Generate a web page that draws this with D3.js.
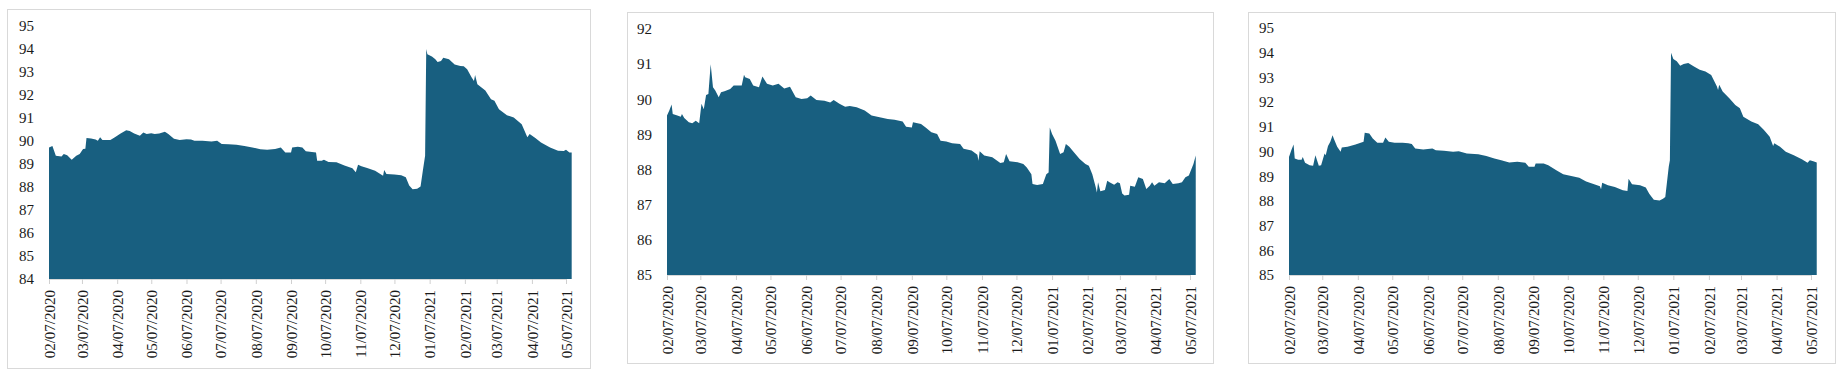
<!DOCTYPE html>
<html>

<head>
    <meta charset="utf-8">
    <title>Three area charts</title>
    <script src="https://d3js.org/d3.v7.min.js"></script>
    <style>
        body { margin: 0; background: #fff; }
        .tick text { font-family: "Liberation Serif", "DejaVu Serif", serif; fill: #1a1a1a; }
    </style>
</head>

<body>
    <svg width="1843" height="377"></svg>

    <script>
        // tick dates (MM/DD/YYYY on the axis)
        const tickDates = ["2020-02-07", "2020-03-07", "2020-04-07", "2020-05-07", "2020-06-07", "2020-07-07",
            "2020-08-07", "2020-09-07", "2020-10-07", "2020-11-07", "2020-12-07", "2021-01-07",
            "2021-02-07", "2021-03-07", "2021-04-07", "2021-05-07"];

        const yTicksA = [84, 85, 86, 87, 88, 89, 90, 91, 92, 93, 94, 95];
        const yTicksB = [85, 86, 87, 88, 89, 90, 91, 92];
        const yTicksC = [85, 86, 87, 88, 89, 90, 91, 92, 93, 94, 95];

        // series values
        const seriesA = [["2020-02-07",89.72],["2020-02-10",89.78],["2020-02-13",89.36],["2020-02-18",89.33],["2020-02-20",89.43],["2020-02-23",89.38],["2020-02-27",89.19],["2020-03-02",89.36],["2020-03-05",89.43],["2020-03-08",89.65],["2020-03-10",89.66],["2020-03-11",90.13],["2020-03-15",90.11],["2020-03-19",90.07],["2020-03-21",90.01],["2020-03-23",90.16],["2020-03-25",90.04],["2020-04-01",90.04],["2020-04-05",90.16],["2020-04-10",90.33],["2020-04-15",90.47],["2020-04-18",90.44],["2020-04-22",90.33],["2020-04-27",90.23],["2020-04-30",90.37],["2020-05-03",90.3],["2020-05-07",90.34],["2020-05-10",90.3],["2020-05-14",90.33],["2020-05-19",90.4],["2020-05-22",90.3],["2020-05-27",90.1],["2020-06-01",90.04],["2020-06-07",90.08],["2020-06-11",90.06],["2020-06-14",90.01],["2020-06-21",90.01],["2020-06-29",89.98],["2020-07-04",90.01],["2020-07-08",89.87],["2020-07-14",89.86],["2020-07-21",89.84],["2020-07-28",89.78],["2020-08-04",89.72],["2020-08-11",89.64],["2020-08-17",89.62],["2020-08-24",89.65],["2020-08-29",89.72],["2020-09-02",89.5],["2020-09-07",89.5],["2020-09-08",89.72],["2020-09-13",89.75],["2020-09-17",89.72],["2020-09-20",89.55],["2020-09-29",89.5],["2020-09-30",89.14],["2020-10-04",89.14],["2020-10-06",89.19],["2020-10-10",89.09],["2020-10-17",89.08],["2020-10-24",88.93],["2020-10-31",88.81],["2020-11-03",88.64],["2020-11-05",88.97],["2020-11-08",88.9],["2020-11-13",88.83],["2020-11-20",88.71],["2020-11-27",88.49],["2020-11-28",88.74],["2020-11-30",88.57],["2020-12-07",88.54],["2020-12-13",88.51],["2020-12-17",88.42],["2020-12-20",88.06],["2020-12-23",87.9],["2020-12-27",87.92],["2020-12-30",88.02],["2021-01-01",88.71],["2021-01-03",89.36],["2021-01-04",94.0],["2021-01-05",93.77],["2021-01-09",93.67],["2021-01-12",93.55],["2021-01-14",93.44],["2021-01-17",93.48],["2021-01-19",93.62],["2021-01-24",93.55],["2021-01-29",93.33],["2021-02-03",93.26],["2021-02-06",93.25],["2021-02-09",93.12],["2021-02-13",92.76],["2021-02-15",92.61],["2021-02-16",92.87],["2021-02-18",92.47],["2021-02-25",92.2],["2021-03-02",91.82],["2021-03-05",91.75],["2021-03-09",91.38],["2021-03-16",91.12],["2021-03-22",91.02],["2021-03-29",90.73],["2021-04-03",90.16],["2021-04-05",90.3],["2021-04-10",90.13],["2021-04-15",89.94],["2021-04-23",89.72],["2021-04-30",89.58],["2021-05-05",89.56],["2021-05-07",89.62],["2021-05-10",89.5],["2021-05-12",89.5]];

        const seriesB = [["2020-02-07",89.54],["2020-02-09",89.68],["2020-02-11",89.85],["2020-02-12",89.58],["2020-02-16",89.54],["2020-02-19",89.5],["2020-02-20",89.58],["2020-02-22",89.47],["2020-02-26",89.35],["2020-02-29",89.32],["2020-03-03",89.39],["2020-03-06",89.32],["2020-03-08",89.87],["2020-03-10",89.72],["2020-03-12",90.12],["2020-03-14",90.15],["2020-03-16",91.0],["2020-03-18",90.34],["2020-03-20",90.25],["2020-03-23",90.06],["2020-03-25",90.2],["2020-03-28",90.23],["2020-04-02",90.29],["2020-04-05",90.39],["2020-04-12",90.39],["2020-04-14",90.7],["2020-04-15",90.63],["2020-04-19",90.58],["2020-04-22",90.39],["2020-04-27",90.34],["2020-04-30",90.65],["2020-05-04",90.44],["2020-05-09",90.39],["2020-05-14",90.44],["2020-05-19",90.31],["2020-05-24",90.36],["2020-05-29",90.06],["2020-06-03",90.01],["2020-06-08",90.03],["2020-06-11",90.11],["2020-06-16",89.98],["2020-06-23",89.96],["2020-06-28",89.91],["2020-07-01",89.98],["2020-07-06",89.87],["2020-07-11",89.79],["2020-07-15",89.81],["2020-07-21",89.77],["2020-07-28",89.68],["2020-08-03",89.54],["2020-08-10",89.49],["2020-08-17",89.44],["2020-08-23",89.42],["2020-08-30",89.37],["2020-09-02",89.22],["2020-09-07",89.2],["2020-09-08",89.35],["2020-09-15",89.3],["2020-09-19",89.2],["2020-09-24",89.06],["2020-09-29",89.01],["2020-10-02",88.82],["2020-10-07",88.8],["2020-10-12",88.75],["2020-10-19",88.73],["2020-10-22",88.59],["2020-10-29",88.54],["2020-11-03",88.42],["2020-11-04",88.25],["2020-11-05",88.52],["2020-11-09",88.4],["2020-11-16",88.35],["2020-11-23",88.19],["2020-11-26",88.21],["2020-11-28",88.44],["2020-12-01",88.24],["2020-12-08",88.21],["2020-12-13",88.16],["2020-12-16",88.06],["2020-12-20",87.87],["2020-12-21",87.59],["2020-12-25",87.56],["2020-12-30",87.59],["2021-01-02",87.87],["2021-01-04",87.92],["2021-01-05",89.2],["2021-01-07",89.01],["2021-01-10",88.82],["2021-01-14",88.44],["2021-01-17",88.49],["2021-01-19",88.73],["2021-01-22",88.65],["2021-01-26",88.49],["2021-01-31",88.3],["2021-02-05",88.16],["2021-02-08",88.11],["2021-02-11",87.87],["2021-02-14",87.5],["2021-02-15",87.35],["2021-02-16",87.64],["2021-02-18",87.38],["2021-02-22",87.42],["2021-02-24",87.68],["2021-02-26",87.64],["2021-03-02",87.57],["2021-03-05",87.64],["2021-03-07",87.61],["2021-03-09",87.32],["2021-03-11",87.26],["2021-03-15",87.28],["2021-03-16",87.54],["2021-03-20",87.51],["2021-03-23",87.78],["2021-03-27",87.73],["2021-03-30",87.45],["2021-04-02",87.54],["2021-04-04",87.64],["2021-04-06",87.54],["2021-04-10",87.64],["2021-04-15",87.61],["2021-04-19",87.73],["2021-04-22",87.59],["2021-04-27",87.61],["2021-04-30",87.64],["2021-05-03",87.78],["2021-05-06",87.83],["2021-05-10",88.16],["2021-05-12",88.4]];

        const seriesC = [["2020-02-07",89.78],["2020-02-09",90.05],["2020-02-11",90.28],["2020-02-12",89.72],["2020-02-15",89.67],["2020-02-18",89.67],["2020-02-19",89.78],["2020-02-21",89.54],["2020-02-25",89.44],["2020-02-28",89.42],["2020-03-01",89.85],["2020-03-04",89.42],["2020-03-06",89.44],["2020-03-09",89.92],["2020-03-10",89.85],["2020-03-12",90.22],["2020-03-14",90.39],["2020-03-16",90.66],["2020-03-17",90.53],["2020-03-20",90.19],["2020-03-23",89.99],["2020-03-24",90.16],["2020-03-29",90.19],["2020-04-05",90.28],["2020-04-12",90.39],["2020-04-13",90.76],["2020-04-17",90.73],["2020-04-20",90.53],["2020-04-24",90.35],["2020-04-29",90.35],["2020-05-01",90.57],["2020-05-04",90.39],["2020-05-09",90.35],["2020-05-16",90.35],["2020-05-21",90.33],["2020-05-24",90.3],["2020-05-27",90.12],["2020-06-03",90.08],["2020-06-11",90.12],["2020-06-14",90.05],["2020-06-21",90.03],["2020-06-29",89.99],["2020-07-04",90.01],["2020-07-11",89.92],["2020-07-21",89.89],["2020-07-28",89.82],["2020-08-04",89.72],["2020-08-10",89.65],["2020-08-17",89.55],["2020-08-24",89.58],["2020-08-31",89.54],["2020-09-03",89.38],["2020-09-08",89.38],["2020-09-09",89.51],["2020-09-16",89.51],["2020-09-20",89.44],["2020-09-27",89.24],["2020-10-03",89.08],["2020-10-10",89.01],["2020-10-17",88.94],["2020-10-23",88.79],["2020-10-30",88.67],["2020-11-04",88.59],["2020-11-05",88.47],["2020-11-06",88.73],["2020-11-11",88.63],["2020-11-17",88.56],["2020-11-24",88.43],["2020-11-28",88.4],["2020-11-29",88.9],["2020-12-02",88.67],["2020-12-09",88.63],["2020-12-14",88.54],["2020-12-17",88.29],["2020-12-21",88.05],["2020-12-26",88.02],["2020-12-29",88.09],["2020-12-31",88.16],["2021-01-03",89.38],["2021-01-04",89.65],["2021-01-05",94.0],["2021-01-07",93.74],["2021-01-10",93.65],["2021-01-13",93.47],["2021-01-16",93.54],["2021-01-20",93.58],["2021-01-25",93.44],["2021-01-30",93.31],["2021-02-04",93.24],["2021-02-09",93.1],["2021-02-14",92.63],["2021-02-15",92.49],["2021-02-16",92.7],["2021-02-19",92.43],["2021-02-25",92.15],["2021-03-02",91.88],["2021-03-06",91.75],["2021-03-09",91.41],["2021-03-16",91.21],["2021-03-22",91.1],["2021-03-27",90.87],["2021-04-01",90.6],["2021-04-04",90.22],["2021-04-05",90.33],["2021-04-10",90.19],["2021-04-15",89.99],["2021-04-22",89.85],["2021-04-29",89.69],["2021-05-04",89.54],["2021-05-06",89.65],["2021-05-09",89.61],["2021-05-12",89.55]];

        const parse = d3.timeParse("%Y-%m-%d");
        const fmt = d3.timeFormat("%m/%d/%Y");
        const ticks = tickDates.map(parse);

        // panel frames and plot boxes
        const panels = [
            { data: seriesA, yTicks: yTicksA, box: [7, 9, 583, 359], left: 49, right: 566, top: 26, bottom: 279 },
            { data: seriesB, yTicks: yTicksB, box: [627, 12, 586, 351], left: 667, right: 1190, top: 29, bottom: 275 },
            { data: seriesC, yTicks: yTicksC, box: [1248, 12, 587, 351], left: 1289, right: 1811, top: 28, bottom: 275 }
        ];

        const svg = d3.select("svg");

        panels.forEach(p => {
            const g = svg.append("g");

            g.append("rect")
                .attr("x", p.box[0] + 0.5).attr("y", p.box[1] + 0.5)
                .attr("width", p.box[2]).attr("height", p.box[3])
                .attr("fill", "#fff").attr("stroke", "#d9d9d9");

            const x = d3.scaleTime()
                .domain([ticks[0], ticks[ticks.length - 1]])
                .range([p.left, p.right]);

            const y = d3.scaleLinear()
                .domain([d3.min(p.yTicks), d3.max(p.yTicks)])
                .range([p.bottom, p.top]);

            const rows = p.data.map(d => ({ date: parse(d[0]), value: d[1] }));

            const area = d3.area()
                .x(d => x(d.date))
                .y0(y(d3.min(p.yTicks)))
                .y1(d => y(d.value));

            g.append("path")
                .datum(rows)
                .attr("fill", "#185f80")
                .attr("d", area);

            // y axis: labels only
            const yAxis = g.append("g")
                .attr("transform", `translate(${p.left},0)`)
                .call(d3.axisLeft(y).tickValues(p.yTicks).tickFormat(d3.format("d")).tickSize(0).tickPadding(15));
            yAxis.select(".domain").remove();
            yAxis.selectAll("text").style("font-size", "15px");

            // x axis with rotated date labels
            const xAxis = g.append("g")
                .attr("transform", `translate(0,${p.bottom})`)
                .call(d3.axisBottom(x).tickValues(ticks).tickFormat(fmt).tickSize(5));
            xAxis.select(".domain").attr("stroke", "#d9d9d9");
            xAxis.selectAll(".tick line").attr("stroke", "#d0d0d0");
            xAxis.selectAll("text")
                .style("font-size", "15px")
                .attr("transform", "rotate(-90)")
                .attr("x", -11)
                .attr("y", 0)
                .attr("dy", "0.35em")
                .style("text-anchor", "end");
        });
    </script>
</body>

</html>
